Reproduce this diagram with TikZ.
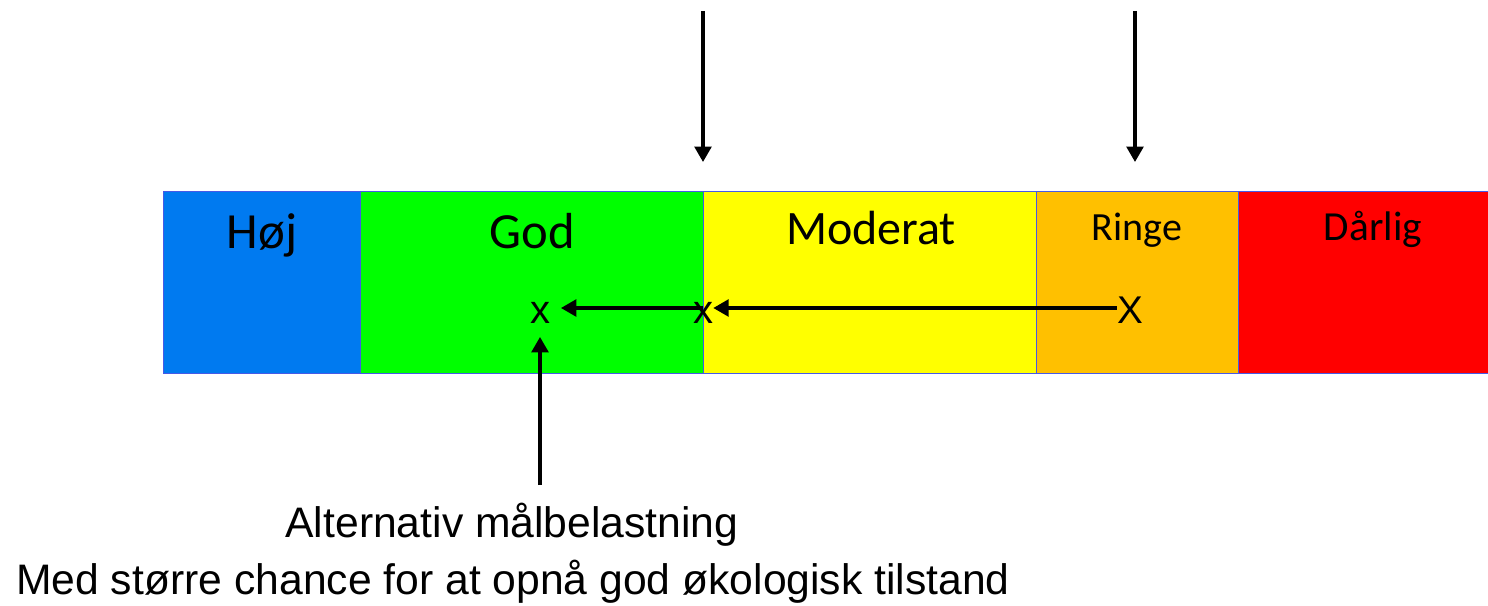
\documentclass[tikz,border=0pt]{standalone}
\usepackage{fontspec}
\setmainfont{Liberation Sans}
\newfontfamily\calfont{Carlito}
\usetikzlibrary{arrows.meta}
\definecolor{hojc}{RGB}{0,122,240}
\definecolor{godc}{RGB}{0,255,0}
\definecolor{modc}{RGB}{255,255,0}
\definecolor{ringc}{RGB}{255,192,0}
\definecolor{darc}{RGB}{255,0,0}
\definecolor{bandline}{RGB}{70,90,230}
\begin{document}
\begin{tikzpicture}[x=0.75pt,y=-0.75pt,
  band/.style={draw=bandline, line width=0.75pt, minimum height=135.75pt, anchor=north west, inner sep=0pt, outer sep=0pt},
  lab/.style={font=\calfont, anchor=base, inner sep=0pt},
  mk/.style={font=\fontsize{30}{30}\selectfont, inner sep=0pt, text height=23pt, text depth=0pt},
  arr/.style={line width=2.5pt, -{Triangle[width=12.5pt,length=11.5pt]}},
  txt/.style={font=\fontsize{32}{32}\selectfont, anchor=base, inner sep=0pt}]
\useasboundingbox (0,0) rectangle (1488,606);
% bands
\node[band, fill=hojc, minimum width=147.75pt] (hoj) at (163,192) {};
\node[band, fill=godc, minimum width=257.25pt] (god) at (360,192) {};
\node[band, fill=modc, minimum width=249.75pt] (mod) at (703,192) {};
\node[band, fill=ringc, minimum width=151.5pt] (ring) at (1036,192) {};
\node[band, fill=darc, minimum width=190pt] (dar) at (1238,192) {};
% labels
\node[lab, font=\calfont\fontsize{38}{38}\selectfont] (lhoj) at (262,248) {Høj};
\node[lab, font=\calfont\fontsize{38}{38}\selectfont] (lgod) at (532,248) {God};
\node[lab, font=\calfont\fontsize{36}{36}\selectfont] (lmod) at (871,244) {Moderat};
\node[lab, font=\calfont\fontsize{30}{30}\selectfont] (lring) at (1137,240) {Ringe};
\node[lab, font=\calfont\fontsize{31}{31}\selectfont] (ldar) at (1373,240) {Dårlig};
% markers
\node[mk] (xa) at (540,308) {x};
\node[mk] (xb) at (703,308) {x};
\node[mk, font=\fontsize{29}{29}\selectfont] (xc) at (1130,308) {X};
% arrows between markers
\draw[arr] (xc.west) -- (xb.east);
\draw[arr, shorten >=8pt] (xb.center) -- (xa.east);
% bottom texts
\node[txt] (alt) at (512,537) {Alternativ målbelastning};
\node[txt] (med) at (513,594) {Med større chance for at opnå god økologisk tilstand};
\draw[arr, shorten <=13pt, shorten >=10pt] (xa.south |- alt.north) -- (xa.south);
% top arrows
\coordinate (t1s) at (703,11);
\coordinate (t1e) at (703,162);
\coordinate (t2s) at (1135,11);
\coordinate (t2e) at (1135,162);
\draw[arr] (t1s) -- (t1e);
\draw[arr] (t2s) -- (t2e);
\end{tikzpicture}
\end{document}
